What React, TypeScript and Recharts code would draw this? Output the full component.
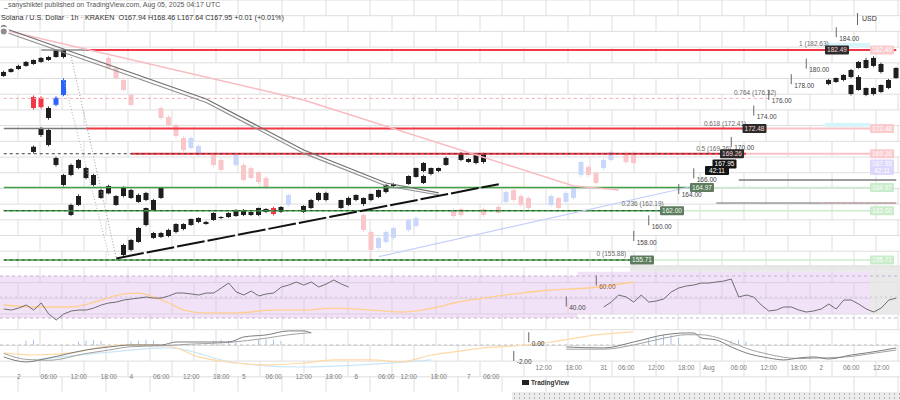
import React from "react";
import {
  ComposedChart, Bar, Line, XAxis, YAxis, CartesianGrid,
  ReferenceLine, ReferenceDot, ReferenceArea,
} from "recharts";

// one slot = one hourly candle column (7.5px at 900px width)
const SLOTS = Array.from({ length: 120 }, (_, i) => i);

type Candle = [number, number, number, number, number]; // slot, open, high, low, close
type Pt = [number, number]; // slot, value

const DARK_A: Candle[] = [
  [0, 179.18, 179.85, 179.05, 179.69], [1, 179.69, 180.2, 179.6, 180.07],
  [2, 180.07, 180.6, 179.95, 180.46], [3, 180.46, 181.1, 180.35, 180.97],
  [4, 180.71, 181.3, 180.6, 181.22], [5, 180.97, 181.6, 180.85, 181.48],
  [6, 181.22, 181.75, 181.1, 181.6], [7, 181.6, 182.6, 181.5, 182.5],
  [8, 182.5, 182.63, 181.4, 181.6],
  [16, 156.35, 157.8, 155.97, 157.62], [17, 156.99, 158.4, 156.8, 158.26],
  [18, 158.01, 159.9, 157.9, 159.79], [19, 160.17, 162.4, 160.0, 162.34],
  [20, 158.52, 159.3, 158.4, 159.15], [21, 158.64, 159.3, 158.5, 159.15],
  [22, 158.77, 159.7, 158.6, 159.54], [23, 159.28, 160.4, 159.1, 160.3],
  [24, 159.66, 160.4, 159.5, 160.3], [25, 160.17, 161.0, 160.05, 160.94],
  [26, 160.56, 161.15, 160.4, 161.07], [27, 160.3, 160.7, 160.2, 160.56],
  [28, 160.81, 161.8, 160.7, 161.7], [29, 161.07, 161.3, 160.9, 161.19],
  [30, 161.19, 161.8, 161.07, 161.7], [31, 161.32, 162.2, 161.2, 162.09],
  [32, 161.45, 162.2, 161.3, 162.09], [33, 161.45, 161.9, 161.3, 161.83],
  [34, 161.45, 162.4, 161.3, 162.34], [35, 161.83, 162.3, 161.7, 162.22],
  [37, 161.83, 162.6, 161.7, 162.47], [40, 161.83, 162.7, 161.7, 162.6],
  [41, 162.34, 163.5, 162.2, 163.36], [42, 163.36, 164.4, 163.2, 164.26],
  [43, 163.36, 164.4, 163.2, 164.26], [45, 162.34, 163.4, 162.2, 163.36],
  [46, 162.73, 163.8, 162.6, 163.62], [47, 163.36, 164.1, 163.2, 164.0],
  [48, 162.85, 163.7, 162.6, 163.62], [49, 163.36, 164.2, 163.2, 164.13],
  [50, 163.75, 164.7, 163.6, 164.64], [51, 164.38, 165.4, 164.2, 165.28],
  [52, 165.15, 165.5, 165.0, 165.4], [54, 165.4, 166.5, 165.3, 166.42],
  [55, 166.3, 167.5, 166.2, 167.44], [56, 167.06, 168.2, 166.9, 168.08],
  [57, 166.68, 167.5, 166.5, 167.44], [58, 167.06, 167.5, 166.9, 167.44],
  [59, 167.83, 168.9, 167.7, 168.72], [61, 168.47, 169.5, 168.3, 169.36],
  [62, 168.21, 168.7, 168.1, 168.59], [63, 168.08, 169.3, 167.9, 169.1],
  [64, 168.21, 169.4, 168.0, 169.23],
  [110, 178.16, 178.8, 178.0, 178.67], [111, 178.41, 179.0, 178.3, 178.92],
  [112, 178.67, 179.4, 178.5, 179.31], [113, 179.05, 180.1, 178.9, 179.94],
  [114, 180.2, 181.1, 180.1, 180.97], [115, 180.2, 181.5, 180.1, 181.22],
  [116, 180.46, 181.7, 180.3, 181.48], [117, 180.71, 180.9, 179.5, 179.69],
  [118, 177.65, 178.8, 177.5, 178.67], [119, 178.92, 180.3, 178.8, 180.2],
];

const DARK_B: Candle[] = [
  [4, 169.49, 170.3, 169.3, 170.15], [5, 172.55, 172.7, 171.4, 171.65],
  [6, 175.1, 175.3, 173.6, 173.82], [7, 168.72, 168.9, 167.6, 167.83],
  [8, 166.55, 166.7, 165.1, 165.28], [9, 167.83, 168.0, 166.4, 166.55],
  [10, 163.87, 164.1, 162.6, 162.73], [11, 167.44, 167.6, 166.0, 166.17],
  [12, 166.55, 166.7, 165.1, 165.28], [13, 164.64, 164.8, 163.5, 163.62],
  [14, 164.2, 165.3, 164.1, 165.15], [15, 163.87, 164.0, 162.6, 162.73],
  [16, 163.87, 165.1, 163.7, 165.02], [17, 163.62, 164.8, 163.5, 164.64],
  [18, 164.0, 164.2, 163.0, 163.11], [19, 163.36, 164.4, 163.2, 164.26],
  [20, 163.36, 163.5, 162.0, 162.09], [21, 163.62, 165.0, 163.5, 164.89],
  [56, 165.53, 166.6, 165.4, 166.42],
  [113, 176.88, 178.1, 176.7, 178.03], [114, 177.39, 179.3, 177.3, 179.05],
  [115, 176.76, 177.7, 176.6, 177.65], [116, 176.88, 177.7, 176.7, 177.65],
  [117, 177.14, 178.1, 177.0, 178.03],
];

const DARK_C: Candle[] = [
  [6, 172.29, 172.5, 170.2, 170.38], [9, 162.73, 162.9, 161.3, 161.45],
  [10, 168.47, 168.6, 167.3, 167.44],
];

const ACCENT: Candle[] = [
  [4, 176.5, 176.7, 174.9, 175.1], [5, 176.4, 176.6, 175.0, 175.2],
  [7, 175.5, 176.6, 175.3, 176.4], [8, 176.76, 178.9, 176.6, 178.67],
  [36, 162.34, 162.5, 161.4, 161.58],
];

const GHOST: Candle[] = [
  [14, 181.48, 181.7, 180.0, 180.2], [15, 180.2, 180.4, 178.7, 178.92],
  [16, 178.67, 178.9, 177.2, 177.39], [17, 176.76, 177.0, 175.3, 175.48],
  [21, 175.1, 175.3, 173.6, 173.82], [22, 173.95, 174.2, 172.7, 172.93],
  [23, 172.93, 173.1, 171.3, 171.53], [24, 171.27, 171.5, 169.5, 169.74],
  [25, 169.99, 171.5, 169.8, 171.27], [26, 169.1, 170.5, 168.9, 170.25],
  [28, 169.1, 169.3, 167.6, 167.83], [29, 168.47, 168.7, 167.0, 167.19],
  [31, 167.83, 169.3, 167.6, 169.1], [32, 167.83, 168.1, 165.7, 165.91],
  [33, 167.44, 167.7, 166.0, 166.17], [34, 166.93, 167.1, 165.4, 165.66],
  [35, 166.17, 166.4, 164.7, 164.89], [38, 162.73, 164.2, 162.5, 164.0],
  [48, 161.45, 161.7, 159.3, 159.54], [49, 159.28, 159.5, 155.45, 156.99],
  [50, 157.24, 158.7, 157.0, 158.52], [51, 158.01, 159.5, 157.8, 159.28],
  [52, 158.52, 160.0, 158.3, 159.79], [54, 159.54, 161.0, 159.3, 160.81],
  [55, 160.05, 161.3, 159.9, 161.07], [60, 162.09, 162.3, 161.1, 161.32],
  [61, 162.22, 162.4, 161.2, 161.45], [64, 162.22, 162.4, 161.2, 161.45],
  [66, 162.47, 162.7, 161.6, 161.7], [67, 163.11, 164.6, 162.9, 164.38],
  [68, 164.64, 164.9, 163.1, 163.36], [69, 163.87, 164.1, 162.5, 162.73],
  [70, 163.62, 163.8, 162.1, 162.34], [73, 162.73, 164.1, 162.5, 163.87],
  [74, 163.62, 163.8, 162.1, 162.34], [75, 163.11, 164.5, 162.9, 164.26],
  [76, 163.62, 165.1, 163.4, 164.89], [77, 166.55, 168.4, 166.3, 168.21],
  [78, 167.57, 167.8, 166.3, 166.55], [79, 166.81, 167.0, 165.3, 165.53],
  [80, 167.44, 168.7, 167.2, 168.47], [81, 168.47, 169.7, 168.3, 169.49],
  [83, 169.36, 169.6, 168.0, 168.21], [84, 169.36, 169.6, 167.9, 168.08],
];

// drawn trend lines
const GRAY_TREND_1: Pt[] = [[0, 185.3], [27, 176.25], [40, 169.74], [51, 165.53], [58, 164.26]];
const GRAY_TREND_2: Pt[] = [[0, 184.85], [27, 175.8], [40, 169.3], [51, 165.15], [58, 164.0]];
const PINK_TREND: Pt[] = [[0, 185.05], [40, 176.12], [76, 165.15], [82, 164.64]];
const SUPPORT_TREND: Pt[] = [[15, 155.91], [66, 165.38]];
const BLUE_TREND: Pt[] = [[50, 156.13], [92, 165.15]];
const DOTTED_1: Pt[] = [[9, 181.6], [15, 155.97]];
const DOTTED_2: Pt[] = [[8, 178.67], [14, 156.35]];

// horizontal levels and fib retracement
const LEVELS = [182.49, 172.48, 169.26, 164.97, 162.0, 155.71];
const FIB: [string, number, number][] = [
  ["1 (182.63)", 182.63, 110], ["0.764 (176.32)", 176.32, 103],
  ["0.618 (172.41)", 172.41, 99], ["0.5 (169.26)", 169.26, 97],
  ["0.236 (162.19)", 162.19, 88], ["0 (155.88)", 155.88, 83],
];
const PRICE_TICKS: Pt[] = [
  [184, 111], [180, 107], [178, 105], [176, 102], [174, 100],
  [170, 97], [166, 92], [164, 90], [160, 86], [158, 84],
];
const TAGS: [string, number, number][] = [
  ["182.49", 182.49, 110], ["172.48", 172.48, 99], ["169.26", 169.26, 96],
  ["167.95", 167.95, 95], ["42:11", 167.13, 94], ["164.97", 164.97, 92],
  ["162.00", 162.0, 88], ["155.71", 155.71, 84],
];

// RSI (14) and its moving average
const RSI_LEFT = [38.6, 37.6, 39.5, 42.4, 37.6, 44.3, 33.8, 28.1, 33.8, 36.7, 37.6, 37.6,
  39.5, 42.4, 44.3, 45.2, 47.1, 48.1, 49.0, 50.0, 49.0, 49.0, 51.0, 53.8, 53.8, 52.9, 51.9,
  53.8, 53.8, 58.6, 63.3, 54.8, 51.9, 55.7, 51.0, 52.9, 53.8, 59.5, 61.4, 64.3, 61.4, 64.3,
  59.5, 62.4, 66.2, 62.4, 59.5]; // slots 0..46
const RSI_RIGHT = [40.5, 45.2, 51.9, 50.0, 45.2, 51.9, 45.2, 46.2, 48.1, 54.8, 58.6, 60.5,
  61.4, 63.3, 63.3, 64.3, 65.2, 67.1, 50.0, 51.9, 50.0, 42.4, 36.7, 37.6, 40.5, 40.5, 37.6,
  35.7, 36.7, 38.6, 43.3, 38.6, 47.1, 47.1, 43.3, 38.6, 35.7, 39.5, 47.1, 49.0]; // slots 80..119
const RSI_MA: Pt[] = [
  [0, 42.4], [4, 40.5], [9, 40.5], [13, 47.1], [16, 52.9], [18, 53.8], [20, 50.0],
  [22, 44.3], [24, 37.6], [27, 34.8], [31, 34.8], [36, 37.6], [40, 37.6], [44, 39.5],
  [49, 37.6], [53, 35.7], [58, 40.5], [60, 44.3], [64, 49.0], [69, 53.8], [73, 56.7],
  [78, 58.6], [84, 64.3],
];

// MACD
const MACD_LEFT: Pt[] = [[0, -1.41], [3, -2.0], [6, -1.53], [11, -0.59], [14, -0.24], [17, 0],
  [21, 0], [23, 0.35], [27, 0.35], [30, 0.35], [32, 0.94], [35, 1.18], [38, 1.65], [40, 1.65], [41, 1.41]];
const SIGNAL_LEFT: Pt[] = [[0, -1.0], [3, -1.7], [6, -1.8], [11, -1.0], [14, -0.6], [17, -0.2],
  [21, -0.1], [25, 0.1], [30, 0.3], [35, 0.8], [38, 1.2], [41, 1.45]];
const MACD_RIGHT: Pt[] = [[75, -0.24], [80, -0.35], [84, 0.35], [88, 1.18], [91, 1.41], [92, 1.41],
  [93, 0.82], [95, 0.59], [97, -0.24], [99, -0.94], [102, -1.53], [104, -1.76], [106, -1.53],
  [108, -1.41], [110, -1.65], [113, -1.18], [115, -0.94], [119, -0.35]];
const SIGNAL_RIGHT: Pt[] = [[75, -0.5], [80, -0.5], [84, 0.0], [88, 0.8], [91, 1.2], [93, 1.2],
  [95, 0.9], [97, 0.3], [99, -0.4], [102, -1.1], [104, -1.45], [106, -1.6], [108, -1.55],
  [110, -1.5], [113, -1.35], [115, -1.1], [119, -0.6]];
const MACD_ORANGE: Pt[] = [[0, -0.94], [4, -1.18], [9, -0.94], [13, -0.24], [17, 0], [22, -0.12],
  [26, -1.41], [31, -2.12], [35, -2.35], [40, -2.12], [44, -1.76], [49, -1.76], [53, -2.0],
  [57, -1.18], [60, -0.82], [64, -0.35], [68, -0.12], [73, 0.35], [79, 1.18], [84, 1.53]];
const MACD_BLUE: Pt[] = [[4, -1.76], [13, -0.94], [22, -0.35], [31, -2.12], [40, -2.59], [57, -1.76]];
const HIST: Pt[] = [[3, 0.5], [4, 0.6], [10, 0.4], [11, 0.5], [12, 0.6], [13, 0.5], [17, 0.4],
  [18, 0.5], [19, 0.6], [20, 0.5], [28, 0.5], [29, 0.6], [30, 0.5], [31, 0.4], [34, 0.6],
  [35, 0.7], [36, 0.6], [37, 0.5], [86, 0.8], [87, 1.0], [88, 1.2], [89, 1.1], [90, 0.9],
  [97, 0.5], [98, 0.6], [99, 0.4]];

const TIME_LEFT: [number, string][] = [
  [2, "2"], [6, "06:00"], [10, "12:00"], [14, "18:00"], [17, "4"], [21, "06:00"], [25, "12:00"],
  [29, "18:00"], [32, "5"], [36, "06:00"], [40, "12:00"], [44, "18:00"], [47, "6"], [51, "06:00"],
  [54, "12:00"], [58, "18:00"], [62, "7"], [65, "06:00"],
];
const TIME_RIGHT: [number, string][] = [
  [72, "12:00"], [76, "18:00"], [80, "31"], [83, "06:00"], [87, "12:00"], [91, "18:00"],
  [94, "Aug"], [98, "06:00"], [102, "12:00"], [106, "18:00"], [109, "2"], [113, "06:00"], [117, "12:00"],
];

const toMap = (pts: Pt[]) => new Map(pts.map(([s, v]) => [s, v]));
const candleMap = (rows: Candle[]) => new Map(rows.map((r) => [r[0], r]));

const layerMaps = {
  ghost: candleMap(GHOST), accent: candleMap(ACCENT),
  darkC: candleMap(DARK_C), darkB: candleMap(DARK_B), darkA: candleMap(DARK_A),
};
const lineMaps = {
  gray1: toMap(GRAY_TREND_1), gray2: toMap(GRAY_TREND_2), pink: toMap(PINK_TREND),
  support: toMap(SUPPORT_TREND), blue: toMap(BLUE_TREND), dot1: toMap(DOTTED_1), dot2: toMap(DOTTED_2),
};

const priceRows = SLOTS.map((slot) => {
  const layers: Record<string, Candle | undefined> = {};
  Object.entries(layerMaps).forEach(([k, m]) => { layers[k] = m.get(slot); });
  const present = Object.values(layers).filter(Boolean) as Candle[];
  const range = present.length
    ? [Math.min(...present.map((c) => c[3])), Math.max(...present.map((c) => c[2]))]
    : null;
  const row: Record<string, unknown> = { slot, range, layers };
  Object.entries(lineMaps).forEach(([k, m]) => { row[k] = m.get(slot) ?? null; });
  return row;
});

const rsiMa = toMap(RSI_MA);
const rsiRows = SLOTS.map((slot) => ({
  slot,
  rsi: slot < RSI_LEFT.length ? RSI_LEFT[slot] : slot >= 80 ? RSI_RIGHT[slot - 80] : null,
  rsiMa: rsiMa.get(slot) ?? null,
}));

const macdMaps = {
  macdL: toMap(MACD_LEFT), sigL: toMap(SIGNAL_LEFT), macdR: toMap(MACD_RIGHT),
  sigR: toMap(SIGNAL_RIGHT), orange: toMap(MACD_ORANGE), blue: toMap(MACD_BLUE), hist: toMap(HIST),
};
const macdRows = SLOTS.map((slot) => {
  const row: Record<string, unknown> = { slot };
  Object.entries(macdMaps).forEach(([k, m]) => { row[k] = m.get(slot) ?? null; });
  return row;
});

const timeRows = SLOTS.map((slot) => ({ slot, blank: null }));
const timeLeftMap = new Map(TIME_LEFT);
const timeRightMap = new Map(TIME_RIGHT);

const RED = "#f23645";
const GREEN = "#43a047";
const FONT = "'Liberation Sans', Arial, sans-serif";

function CandleStack(props: any) {
  const { x, y, width, height, payload } = props;
  if (!payload || !payload.range || !Number.isFinite(y)) return null;
  const [lo, hi] = payload.range;
  const top = Math.min(y, y + height);
  const k = hi > lo ? Math.abs(height) / (hi - lo) : 0;
  const py = (p: number) => top + (hi - p) * k;
  const cx = x + width / 2;
  const draw = (c: Candle | undefined, up: string, down: string, wickUp: string, wickDown: string) => {
    if (!c) return null;
    const [, o, h, l, cl] = c;
    const isUp = cl >= o;
    const bt = py(Math.max(o, cl));
    const bb = py(Math.min(o, cl));
    return (
      <g>
        <line x1={cx} x2={cx} y1={py(h)} y2={py(l)} stroke={isUp ? wickUp : wickDown} strokeWidth={1} />
        <rect x={cx - 2.5} y={bt} width={5} height={Math.max(1, bb - bt)} fill={isUp ? up : down} />
      </g>
    );
  };
  const L = payload.layers;
  return (
    <g>
      {draw(L.ghost, "#c9d7fb", "#f9c6ca", "#d6e0fb", "#fad3d6")}
      {draw(L.accent, "#2962ff", RED, "#2962ff", RED)}
      {draw(L.darkC, "#222", "#222", "#444", "#444")}
      {draw(L.darkB, "#1e1e1e", "#1e1e1e", "#444", "#444")}
      {draw(L.darkA, "#1e1e1e", "#1e1e1e", "#444", "#444")}
    </g>
  );
}

const seg = (a: number, b: number, p: number) => [{ x: a, y: p }, { x: b, y: p }] as any;

function Tag({ cx, cy, text, bg, fg, w = 24 }: any) {
  if (!Number.isFinite(cx)) return null;
  return (
    <g>
      <rect x={cx - 3.75} y={cy - 4.5} width={w} height={9} fill={bg} rx={1} />
      <text x={cx - 3.75 + w / 2} y={cy + 2.3} fontSize={6.5} fill={fg} textAnchor="middle" fontFamily={FONT}>{text}</text>
    </g>
  );
}

function AxisMark({ cx, cy, text, color = "#444" }: any) {
  if (!Number.isFinite(cx)) return null;
  return (
    <g>
      <line x1={cx} x2={cx} y1={cy - 11} y2={cy - 1} stroke="#666" strokeWidth={1} />
      <text x={cx + 3} y={cy + 2.5} fontSize={6.5} fill={color} fontFamily={FONT}>{text}</text>
    </g>
  );
}

function FibText({ cx, cy, text }: any) {
  if (!Number.isFinite(cx)) return null;
  return <text x={cx} y={cy - 3} fontSize={6.5} fill="#6b6b6b" textAnchor="end" fontFamily={FONT}>{text}</text>;
}

const tagColor = (i: number) =>
  i < 3 ? ["#2b2b2b", "#ffd6d9"] : i < 5 ? ["#151515", "#fff"] : ["#5f7c60", "#eaffea"];
const paleColor = (i: number) =>
  i < 3 ? "#fbcacd" : i < 5 ? "#dcd8fb" : "#c9ecca";

const margin = { top: 0, right: 0, bottom: 0, left: 0 };
const layer: React.CSSProperties = { position: "absolute", left: 0 };
const GRID = "#dedede";

export default function App() {
  const hLines = Array.from({ length: 26 }, (_, k) => k * 15.7);
  const vA = Array.from({ length: 21 }, (_, k) => 18 + k * 44);
  const vB = Array.from({ length: 21 }, (_, k) => 40 + k * 44);
  return (
    <div style={{ position: "absolute", left: 0, top: 0, width: 900, height: 400, background: "#fff", overflow: "hidden", fontFamily: FONT }}>
      {/* background brick grid */}
      <div style={{ ...layer, top: 0 }}>
        <ComposedChart width={900} height={392} data={timeRows} margin={margin}>
          <XAxis dataKey="slot" scale="band" hide />
          <YAxis hide />
          <CartesianGrid horizontalPoints={hLines} vertical={false} stroke={GRID} />
          <CartesianGrid verticalPoints={vA} horizontal={false} stroke={GRID} strokeDasharray="15.7 15.7" />
          <CartesianGrid verticalPoints={vB} horizontal={false} stroke={GRID} strokeDasharray="0 15.7 15.7 0" />
          <Line dataKey="blank" stroke="none" dot={false} isAnimationActive={false} />
        </ComposedChart>
      </div>

      {/* price panel */}
      <div style={{ ...layer, top: 0 }}>
        <ComposedChart width={900} height={265} data={priceRows} margin={margin}>
          <XAxis dataKey="slot" scale="band" hide />
          <YAxis type="number" domain={[155.07, 188.87]} allowDataOverflow hide />
          <ReferenceArea x1={110} x2={115} y1={182.85} y2={183.4} fill="#d6f5fa" fillOpacity={1} stroke="none" />
          <ReferenceArea x1={110} x2={115} y1={172.7} y2={173.2} fill="#d6f5fa" fillOpacity={1} stroke="none" />
          <ReferenceLine segment={seg(0, 102, FIB[1][1])} stroke="#f4a9af" strokeDasharray="3 3" strokeWidth={1} />
          <ReferenceLine segment={seg(5, 11, LEVELS[0])} stroke="#8a8a8a" strokeWidth={1.5} />
          <ReferenceLine segment={seg(11, 119, LEVELS[0])} stroke={RED} strokeWidth={2} />
          <ReferenceLine segment={seg(0, 11, LEVELS[1])} stroke="#7a7a7a" strokeWidth={1.5} />
          <ReferenceLine segment={seg(11, 99, LEVELS[1])} stroke={RED} strokeWidth={2} />
          <ReferenceLine segment={seg(99, 116, LEVELS[1])} stroke="#f9c3c7" strokeWidth={2} />
          <ReferenceLine segment={seg(17, 99, LEVELS[2])} stroke={RED} strokeWidth={1.8} />
          <ReferenceLine segment={seg(0, 96, LEVELS[2])} stroke="#3a3a3a" strokeDasharray="3 3" strokeWidth={1} />
          <ReferenceLine segment={seg(99, 116, LEVELS[2])} stroke="#f9c3c7" strokeWidth={2} />
          <ReferenceLine segment={seg(0, 92, LEVELS[3])} stroke={GREEN} strokeWidth={1.5} />
          <ReferenceLine segment={seg(92, 116, LEVELS[3])} stroke="#cdeccd" strokeWidth={1.5} />
          <ReferenceLine segment={seg(0, 88, LEVELS[4])} stroke={GREEN} strokeWidth={1.5} />
          <ReferenceLine segment={seg(0, 88, LEVELS[4])} stroke="#2e4f2f" strokeDasharray="3 3" strokeWidth={1} />
          <ReferenceLine segment={seg(88, 116, LEVELS[4])} stroke="#cdeccd" strokeWidth={1.5} />
          <ReferenceLine segment={seg(0, 84, LEVELS[5])} stroke={GREEN} strokeWidth={1.5} />
          <ReferenceLine segment={seg(0, 84, LEVELS[5])} stroke="#2e4f2f" strokeDasharray="3 3" strokeWidth={1} />
          <ReferenceLine segment={seg(84, 116, LEVELS[5])} stroke="#cdeccd" strokeWidth={1.5} />
          <ReferenceLine segment={seg(98, 119, 165.91)} stroke="#3c3c3c" strokeWidth={1.2} />
          <ReferenceLine segment={seg(95, 119, 162.98)} stroke="#6c6c6c" strokeWidth={1.2} />
          <ReferenceLine segment={seg(109, 119, 162.98)} stroke="#f4a9af" strokeDasharray="3 3" />

          <Line dataKey="pink" stroke="#f8bcc1" strokeWidth={1.5} dot={false} connectNulls isAnimationActive={false} />
          <Line dataKey="blue" stroke="#c5cffb" strokeWidth={1.2} dot={false} connectNulls isAnimationActive={false} />
          <Line dataKey="gray1" stroke="#6f6f6f" strokeWidth={1.2} dot={false} connectNulls isAnimationActive={false} />
          <Line dataKey="gray2" stroke="#8f8f8f" strokeWidth={1.2} dot={false} connectNulls isAnimationActive={false} />
          <Line dataKey="dot1" stroke="#9a9a9a" strokeWidth={1} strokeDasharray="1 2" dot={false} connectNulls isAnimationActive={false} />
          <Line dataKey="dot2" stroke="#b0b0b0" strokeWidth={1} strokeDasharray="1 2" dot={false} connectNulls isAnimationActive={false} />

          <Bar dataKey="range" barSize={7} shape={<CandleStack />} isAnimationActive={false} />

          <Line dataKey="support" stroke="#111" strokeWidth={2} strokeDasharray="28 3" dot={false} connectNulls isAnimationActive={false} />

          {FIB.map(([t, p, s]) => (
            <ReferenceDot key={t} x={s} y={p} r={0} shape={(q: any) => <FibText cx={q.cx} cy={q.cy} text={t} />} />
          ))}
          {PRICE_TICKS.map(([p, s]) => (
            <ReferenceDot key={"t" + p} x={s} y={p} r={0} shape={(q: any) => <AxisMark cx={q.cx} cy={q.cy} text={p.toFixed(2)} />} />
          ))}
          {TAGS.map(([t, p, s], i) => (
            <ReferenceDot key={"g" + t} x={s} y={p} r={0}
              shape={(q: any) => <Tag cx={q.cx} cy={q.cy} text={t} bg={tagColor(i)[0]} fg={tagColor(i)[1]} />} />
          ))}
          {TAGS.map(([t, p], i) => (
            <ReferenceDot key={"p" + t} x={116} y={p} r={0}
              shape={(q: any) => <Tag cx={q.cx} cy={q.cy} text={t} bg={paleColor(i)} fg="#ffffff" />} />
          ))}
        </ComposedChart>
      </div>

      {/* RSI panel */}
      <div style={{ ...layer, top: 265 }}>
        <ComposedChart width={900} height={57} data={rsiRows} margin={margin}>
          <XAxis dataKey="slot" scale="band" hide />
          <YAxis type="number" domain={[26.2, 80.5]} allowDataOverflow hide />
          <ReferenceArea x1={0} x2={76} y1={30} y2={70} fill="#dcb6ee" fillOpacity={0.4} stroke="none" />
          <ReferenceArea x1={77} x2={115} y1={34} y2={74} fill="#dcb6ee" fillOpacity={0.4} stroke="none" />
          <ReferenceArea x1={84} x2={119} y1={74} y2={80.5} fill="#e4e4e4" fillOpacity={0.8} stroke="none" />
          <ReferenceArea x1={116} x2={119} y1={34} y2={74} fill="#e4e4e4" fillOpacity={0.8} stroke="none" />
          <ReferenceLine y={70} stroke="#c5b3cf" strokeDasharray="3 3" />
          <ReferenceLine y={50} stroke="#d2c4da" strokeDasharray="2 3" />
          <ReferenceLine y={30} stroke="#c5b3cf" strokeDasharray="3 3" />
          <Line dataKey="rsiMa" type="monotone" stroke="#ffcf8f" strokeWidth={1.3} dot={false} connectNulls isAnimationActive={false} />
          <Line dataKey="rsi" stroke="#6e6e6e" strokeWidth={1} dot={false} isAnimationActive={false} />
          <ReferenceDot x={79} y={60} r={0} shape={(q: any) => <AxisMark cx={q.cx} cy={q.cy} text="60.00" color="#8a5a2a" />} />
          <ReferenceDot x={75} y={40} r={0} shape={(q: any) => <AxisMark cx={q.cx} cy={q.cy} text="40.00" />} />
        </ComposedChart>
      </div>

      {/* MACD panel */}
      <div style={{ ...layer, top: 322 }}>
        <ComposedChart width={900} height={50} data={macdRows} margin={margin}>
          <XAxis dataKey="slot" scale="band" hide />
          <YAxis type="number" domain={[-3.18, 2.7]} allowDataOverflow hide />
          <ReferenceLine y={0.001} stroke="#c4c4c4" strokeDasharray="3 3" />
          <Bar dataKey="hist" barSize={1} fill="#aac3ea" isAnimationActive={false} />
          <Line dataKey="blue" type="monotone" stroke="#c9e6f7" strokeWidth={1.2} dot={false} connectNulls isAnimationActive={false} />
          <Line dataKey="orange" type="monotone" stroke="#ffd9a6" strokeWidth={1.2} dot={false} connectNulls isAnimationActive={false} />
          <Line dataKey="sigL" type="monotone" stroke="#a2a2a2" strokeWidth={1} dot={false} connectNulls isAnimationActive={false} />
          <Line dataKey="macdL" type="monotone" stroke="#7d7d7d" strokeWidth={1} dot={false} connectNulls isAnimationActive={false} />
          <Line dataKey="sigR" type="monotone" stroke="#a2a2a2" strokeWidth={1} dot={false} connectNulls isAnimationActive={false} />
          <Line dataKey="macdR" type="monotone" stroke="#7d7d7d" strokeWidth={1} dot={false} connectNulls isAnimationActive={false} />
          <ReferenceDot x={70} y={0.2} r={0} shape={(q: any) => <AxisMark cx={q.cx} cy={q.cy} text="0.00" color="#333" />} />
          <ReferenceDot x={68} y={-2} r={0} shape={(q: any) => <AxisMark cx={q.cx} cy={q.cy} text="-2.00" />} />
        </ComposedChart>
      </div>

      {/* time axis, two rows: "a" sits on top (right half), "z" below it (left half) */}
      <div style={{ ...layer, top: 355 }}>
        <ComposedChart width={900} height={28} data={timeRows} margin={margin}>
          <XAxis xAxisId="a" dataKey="slot" scale="band" height={9} interval={0}
            ticks={TIME_RIGHT.map((t) => t[0])} tickFormatter={(v) => timeRightMap.get(v) ?? ""}
            axisLine={false} tickLine={false} tickSize={0} tickMargin={0}
            tick={{ fontSize: 6.5, fill: "#7a7a7a" }} />
          <XAxis xAxisId="z" dataKey="slot" scale="band" height={9} interval={0}
            ticks={TIME_LEFT.map((t) => t[0])} tickFormatter={(v) => timeLeftMap.get(v) ?? ""}
            axisLine={false} tickLine={false} tickSize={0} tickMargin={0}
            tick={{ fontSize: 6.5, fill: "#7a7a7a" }} />
          <YAxis hide />
          <Line xAxisId="a" dataKey="blank" stroke="none" dot={false} isAnimationActive={false} />
          <Line xAxisId="z" dataKey="blank" stroke="none" dot={false} isAnimationActive={false} />
        </ComposedChart>
      </div>

      {/* header */}
      <div style={{ position: "absolute", left: 4, top: 1, fontSize: 7, color: "#555", whiteSpace: "nowrap" }}>
        _sanyshiktel published on TradingView.com, Aug 05, 2025 04:17 UTC
      </div>
      <div style={{ position: "absolute", left: 1, top: 13, fontSize: 7.2, color: "#333", whiteSpace: "nowrap" }}>
        Solana / U.S. Dollar · 1h · KRAKEN&nbsp; O167.94 H168.46 L167.64 C167.95 +0.01 (+0.01%)
      </div>
      <div style={{ position: "absolute", left: 857, top: 13, width: 1, height: 12, background: "#666" }} />
      <div style={{ position: "absolute", left: 862, top: 15, fontSize: 7, color: "#333" }}>USD</div>

      {/* footer */}
      <div style={{ position: "absolute", left: 522, top: 380, width: 7, height: 5, background: "#222" }} />
      <div style={{ position: "absolute", left: 531, top: 379, fontSize: 6.5, fontWeight: 700, color: "#333" }}>TradingView</div>
      <div style={{
        position: "absolute", left: 512, top: 392, width: 388, height: 8,
        background: "radial-gradient(circle, #b3b3b3 0.7px, transparent 1px) 0 0 / 5px 4px, #ececec",
      }} />
    </div>
  );
}
